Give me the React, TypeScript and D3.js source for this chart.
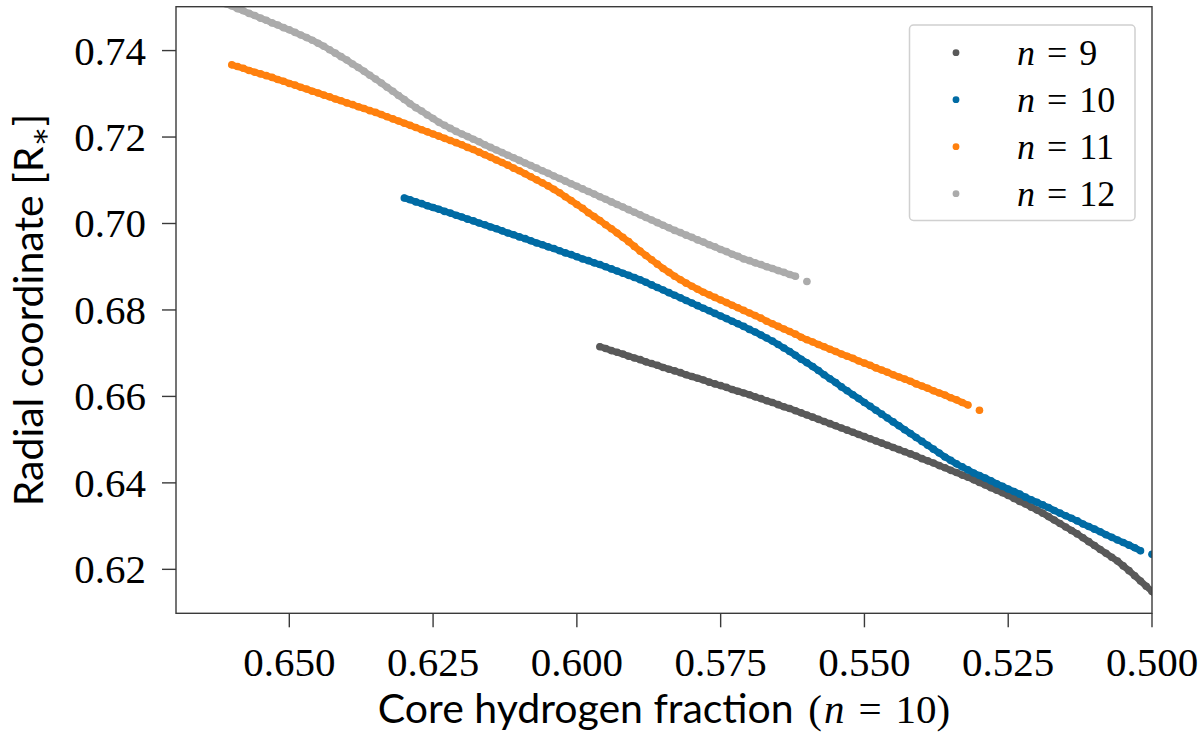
// App.tsx
// Radial coordinate of the modes against core hydrogen fraction, drawn with d3 scales
import React from "react"
import * as d3 from "d3"

// grid of models: one point per 0.001 in core hydrogen fraction, null = no model
const STEP = 0.001

const start9 = 0.596
const y9 = [
  0.6715, 0.6711, 0.6706, 0.6702, 0.6698, 0.6693, 0.6689, 0.6685, 0.668, 0.6676,
  0.6672, 0.6667, 0.6663, 0.6659, 0.6655, 0.665, 0.6646, 0.6642, 0.6638, 0.6633,
  0.6629, 0.6625, 0.6621, 0.6616, 0.6612, 0.6608, 0.6604, 0.6599, 0.6595, 0.659,
  0.6586, 0.6581, 0.6576, 0.6572, 0.6567, 0.6562, 0.6557, 0.6552, 0.6547, 0.6542,
  0.6537, 0.6532, 0.6527, 0.6522, 0.6517, 0.6512, 0.6507, 0.6502, 0.6497, 0.6492,
  0.6487, 0.6482, 0.6477, 0.6472, 0.6467, 0.6462, 0.6456, 0.6451, 0.6446, 0.644,
  0.6435, 0.6429, 0.6424, 0.6418, 0.6413, 0.6407, 0.6401, 0.6395, 0.6389, 0.6383,
  0.6377, 0.6371, 0.6364, 0.6357, 0.6351, 0.6344, 0.6337, 0.633, 0.6322, 0.6314,
  0.6306, 0.6298, 0.629, 0.6282, 0.6273, 0.6264, 0.6255, 0.6246, 0.6237, 0.6228,
  0.6219, 0.6208, 0.6197, 0.6185, 0.6173, 0.6161, 0.6149, 0.6136, 0.6123,
]

const start10 = 0.63
const y10 = [
  0.7059, 0.7055, 0.705, 0.7046, 0.7041, 0.7037, 0.7033, 0.7028, 0.7024, 0.7019,
  0.7015, 0.701, 0.7006, 0.7001, 0.6997, 0.6992, 0.6988, 0.6983, 0.6978, 0.6974,
  0.6969, 0.6965, 0.696, 0.6955, 0.6951, 0.6946, 0.6942, 0.6937, 0.6932, 0.6928,
  0.6923, 0.6918, 0.6914, 0.6909, 0.6905, 0.69, 0.6895, 0.689, 0.6885, 0.688,
  0.6875, 0.687, 0.6864, 0.6858, 0.6852, 0.6846, 0.684, 0.6834, 0.6828, 0.6822,
  0.6816, 0.681, 0.6804, 0.6798, 0.6792, 0.6786, 0.678, 0.6774, 0.6768, 0.6762,
  0.6755, 0.6749, 0.6742, 0.6735, 0.6728, 0.672, 0.6712, 0.6704, 0.6695, 0.6686,
  0.6678, 0.6669, 0.666, 0.665, 0.6641, 0.6632, 0.6622, 0.6613, 0.6604, 0.6595,
  0.6586, 0.6577, 0.6568, 0.6559, 0.655, 0.6541, 0.6532, 0.6523, 0.6514, 0.6505,
  0.6496, 0.6487, 0.6478, 0.6469, 0.646, 0.6452, 0.6444, 0.6437, 0.643, 0.6423,
  0.6417, 0.6411, 0.6405, 0.6398, 0.6392, 0.6386, 0.638, 0.6374, 0.6367, 0.6361,
  0.6355, 0.6349, 0.6343, 0.6336, 0.633, 0.6324, 0.6318, 0.6312, 0.6305, 0.6299,
  0.6293, 0.6287, 0.628, 0.6274, 0.6268, 0.6262, 0.6256, 0.625, 0.6243, null,
  0.6235,
]

const start11 = 0.66
const y11 = [
  0.7367, 0.7363, 0.7359, 0.7354, 0.735, 0.7346, 0.7342, 0.7338, 0.7333, 0.7329,
  0.7324, 0.732, 0.7315, 0.7311, 0.7306, 0.7302, 0.7297, 0.7293, 0.7288, 0.7284,
  0.7279, 0.7275, 0.727, 0.7266, 0.7261, 0.7257, 0.7252, 0.7247, 0.7242, 0.7237,
  0.7232, 0.7227, 0.7222, 0.7217, 0.7212, 0.7207, 0.7202, 0.7197, 0.7192, 0.7187,
  0.7182, 0.7176, 0.7171, 0.7165, 0.7159, 0.7153, 0.7147, 0.7141, 0.7135, 0.7128,
  0.7122, 0.7115, 0.7108, 0.7101, 0.7094, 0.7087, 0.7079, 0.7071, 0.7062, 0.7053,
  0.7044, 0.7035, 0.7025, 0.7016, 0.7007, 0.6997, 0.6988, 0.6978, 0.6968, 0.6958,
  0.6947, 0.6936, 0.6926, 0.6916, 0.6906, 0.6896, 0.6887, 0.6878, 0.687, 0.6862,
  0.6855, 0.6848, 0.6841, 0.6835, 0.6829, 0.6823, 0.6817, 0.6811, 0.6805, 0.6799,
  0.6793, 0.6787, 0.6781, 0.6774, 0.6768, 0.6762, 0.6756, 0.675, 0.6744, 0.6737,
  0.6731, 0.6726, 0.672, 0.6715, 0.6709, 0.6704, 0.6698, 0.6693, 0.6688, 0.6682,
  0.6677, 0.6672, 0.6666, 0.6661, 0.6656, 0.665, 0.6645, 0.664, 0.6635, 0.6629,
  0.6624, 0.6619, 0.6613, 0.6608, 0.6603, 0.6597, 0.6592, 0.6586, 0.658, null,
  0.6568,
]

const start12 = 0.665
const y12 = [
  0.753, 0.7525, 0.7519, 0.7514, 0.7508, 0.7503, 0.7497, 0.7492, 0.7486, 0.7481,
  0.7475, 0.747, 0.7464, 0.7459, 0.7453, 0.7448, 0.7442, 0.7436, 0.743, 0.7424,
  0.7417, 0.741, 0.7402, 0.7394, 0.7386, 0.7378, 0.7369, 0.7361, 0.7352, 0.7343,
  0.7334, 0.7325, 0.7315, 0.7306, 0.7296, 0.7287, 0.7277, 0.7268, 0.726, 0.7251,
  0.7243, 0.7234, 0.7227, 0.722, 0.7213, 0.7207, 0.7201, 0.7195, 0.7189, 0.7182,
  0.7176, 0.717, 0.7164, 0.7158, 0.7152, 0.7146, 0.714, 0.7134, 0.7128, 0.7122,
  0.7116, 0.711, 0.7104, 0.7098, 0.7092, 0.7086, 0.708, 0.7074, 0.7068, 0.7062,
  0.7056, 0.705, 0.7044, 0.7038, 0.7032, 0.7026, 0.702, 0.7014, 0.7008, 0.7002,
  0.6996, 0.699, 0.6984, 0.6979, 0.6973, 0.6968, 0.6962, 0.6957, 0.6951, 0.6946,
  0.694, 0.6935, 0.6929, 0.6924, 0.6918, 0.6914, 0.6909, 0.6905, 0.69, 0.6896,
  0.6891, 0.6887, 0.6882, 0.6878, null, 0.6866,
]

const modeNumbers = [9, 10, 11, 12]
const modeColors = ["#595959", "#006BA4", "#FF800E", "#ABABAB"]
const xTicks = [0.65, 0.625, 0.6, 0.575, 0.55, 0.525, 0.5]
const yTicks = [0.62, 0.64, 0.66, 0.68, 0.7, 0.72, 0.74]

const W = 1200
const H = 746
const left = 176
const right = 1152
const top = 6.7
const bottom = 613.3

const serif = "'Liberation Serif', 'DejaVu Serif', serif"
const sans = "Lato, 'Open Sans', sans-serif"

export default function App() {
  const x = d3.scaleLinear().domain([0.6697, 0.5]).range([left, right])
  const y = d3.scaleLinear().domain([0.60983, 0.75015]).range([bottom, top])

  const all = [
    { n: modeNumbers[0], color: modeColors[0], start: start9, ys: y9 },
    { n: modeNumbers[1], color: modeColors[1], start: start10, ys: y10 },
    { n: modeNumbers[2], color: modeColors[2], start: start11, ys: y11 },
    { n: modeNumbers[3], color: modeColors[3], start: start12, ys: y12 },
  ]

  // the overlapping markers make a band; the line fills the gaps between them
  const band = d3
    .line<number | null>()
    .defined((v) => v !== null)
    .y((v) => y(v as number))

  const fmtX = d3.format(".3f")
  const fmtY = d3.format(".2f")

  return (
    <svg width={W} height={H} style={{ position: "absolute", left: 0, top: 0 }}>
      <defs>
        <clipPath id="plot">
          <rect x={left} y={top} width={right - left} height={bottom - top} />
        </clipPath>
      </defs>
      <rect width={W} height={H} fill="#fff" />

      {/* the model points */}
      <g clipPath="url(#plot)">
        {all.map((s) => {
          const path = band.x((_, i) => x(s.start - i * STEP))(s.ys) || ""
          return (
            <g key={s.n} fill={s.color}>
              <path d={path} fill="none" stroke={s.color} strokeWidth={6.6} strokeLinecap="round" strokeLinejoin="round" />
              {s.ys.map((v, i) =>
                v === null ? null : (
                  <circle key={i} cx={x(s.start - i * STEP)} cy={y(v)} r={3.8} />
                )
              )}
            </g>
          )
        })}
      </g>

      {/* frame */}
      <rect x={left} y={top} width={right - left} height={bottom - top} fill="none" stroke="#3a3a3a" strokeWidth={1.4} />

      {/* x axis */}
      {xTicks.map((t) => (
        <g key={t}>
          <line x1={x(t)} x2={x(t)} y1={bottom} y2={bottom + 14} stroke="#3a3a3a" strokeWidth={1.4} />
          <text x={x(t)} y={676} textAnchor="middle" fontFamily={serif} fontSize={41}>
            {fmtX(t)}
          </text>
        </g>
      ))}

      {/* y axis */}
      {yTicks.map((t) => (
        <g key={t}>
          <line x1={left - 14} x2={left} y1={y(t)} y2={y(t)} stroke="#3a3a3a" strokeWidth={1.4} />
          <text x={146} y={y(t) + 14} textAnchor="end" fontFamily={serif} fontSize={41}>
            {fmtY(t)}
          </text>
        </g>
      ))}

      {/* axis labels */}
      <text x={(left + right) / 2} y={723} textAnchor="middle" fontSize={41}>
        <tspan fontFamily={sans}>Core hydrogen fraction </tspan>
        <tspan fontFamily={serif} dx={4}>(</tspan>
        <tspan fontFamily={serif} fontStyle="italic" dx={2}>n</tspan>
        <tspan fontFamily={serif} dx={14}>=</tspan>
        <tspan fontFamily={serif} dx={14}>10)</tspan>
      </text>
      <text transform={`translate(43, ${(top + bottom) / 2}) rotate(-90)`} textAnchor="middle" fontSize={41} fontFamily={sans}>
        Radial coordinate [R<tspan fontFamily={serif} fontSize={30} dy={7}>∗</tspan>
        <tspan dy={-7}>]</tspan>
      </text>

      {/* legend */}
      <rect x={909.5} y={25} width={225.5} height={195.5} rx={4} fill="#fff" fillOpacity={0.8} stroke="#d0d0d0" strokeWidth={1.5} />
      {all.map((s, i) => (
        <g key={s.n} transform={`translate(0, ${52.7 + i * 47})`}>
          <circle cx={956} cy={0} r={3.4} fill={s.color} />
          <text x={1017} y={12} fontFamily={serif} fontSize={36}>
            <tspan fontStyle="italic">n</tspan>
            <tspan dx={12}>=</tspan>
            <tspan dx={12}>{s.n}</tspan>
          </text>
        </g>
      ))}
    </svg>
  )
}
